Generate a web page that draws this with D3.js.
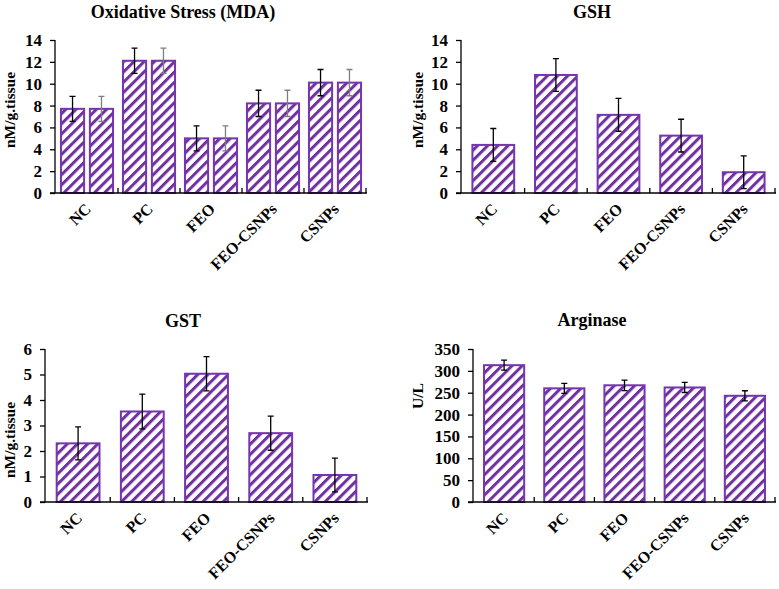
<!DOCTYPE html>
<html>
  <head>
    <meta charset="utf-8">
    <title>Oxidative stress markers</title>
    <script src="https://cdn.jsdelivr.net/npm/d3@7"></script>
    <style>
      body { margin: 0; background: #fff; }
      svg { display: block; }
      text { font-family: "Liberation Serif", "Times New Roman", serif; font-weight: bold; fill: #000; }
      .title { font-size: 18px; }
      .cat-label { font-size: 16px; }
      .y-label { font-size: 15.5px; }
      .axis-line { stroke: #000; stroke-width: 1.3; fill: none; }
      .bar { fill: url(#hatch); stroke: #7535b0; stroke-width: 2; }
      .err { stroke: #000; stroke-width: 1.3; fill: none; }
      .err.grey { stroke: #7f7f7f; }
    </style>
  </head>

  <body>
    <svg id="chart" width="779" height="589">
      <defs>
        <pattern id="hatch" patternUnits="userSpaceOnUse" width="7.2" height="7.2" patternTransform="rotate(45)">
          <rect width="7.2" height="7.2" fill="#fff"></rect>
          <line x1="1.5" y1="0" x2="1.5" y2="7.2" stroke="#7030a0" stroke-width="3"></line>
        </pattern>
      </defs>
    </svg>

    <script>
      // data
      categories = ["NC", "PC", "FEO", "FEO-CSNPs", "CSNPs"];

      mdaValues = [7.7, 12.1, 5.0, 8.2, 10.1];
      mdaErrors = [1.15, 1.15, 1.15, 1.2, 1.2];
      mdaValues2 = [7.7, 12.1, 5.0, 8.2, 10.1];
      mdaErrors2 = [1.15, 1.15, 1.15, 1.2, 1.2];

      gshValues = [4.4, 10.8, 7.15, 5.25, 1.9];
      gshErrors = [1.5, 1.5, 1.5, 1.5, 1.5];

      gstValues = [2.3, 3.55, 5.03, 2.7, 1.06];
      gstErrors = [0.65, 0.68, 0.67, 0.67, 0.66];

      arginaseValues = [313, 260, 267, 262, 243];
      arginaseErrors = [11.5, 11.5, 12, 11.5, 11.5];

      mdaTicks = [0, 2, 4, 6, 8, 10, 12, 14];
      gshTicks = [0, 2, 4, 6, 8, 10, 12, 14];
      gstTicks = [0, 1, 2, 3, 4, 5, 6];
      arginaseTicks = [0, 50, 100, 150, 200, 250, 300, 350];

      svg = d3.select("#chart");

      // one panel: left/right/top/bottom = where the axes sit on the page
      function drawPanel(p) {
        var g = svg.append("g");

        var x = d3.scaleBand()
          .domain(categories)
          .range([p.left + 1, p.right]);
        var y = d3.scaleLinear()
          .domain([0, p.max])
          .range([p.bottom, p.top]);

        // bars: one or two series per category
        var n = p.series.length;
        var groupWidth = n == 1 ? x.bandwidth() * 0.667 : x.bandwidth() * 0.84;
        var sub = d3.scaleBand()
          .domain(d3.range(n))
          .range([0, groupWidth])
          .paddingInner(n == 1 ? 0 : 0.2);

        p.series.forEach(function(s, si) {
          var rows = categories.map(function(c, i) {
            return { cat: c, v: s.values[i], e: s.errors[i] };
          });
          var bx = function(d) {
            return x(d.cat) + (x.bandwidth() - groupWidth) / 2 + sub(si);
          };
          g.selectAll(".bar-s" + si)
            .data(rows)
          .enter().append("rect")
            .attr("class", "bar bar-s" + si)
            .attr("x", bx)
            .attr("width", sub.bandwidth())
            .attr("y", function(d) { return y(d.v); })
            .attr("height", function(d) { return p.bottom - y(d.v); });

          var cx = function(d) { return bx(d) + sub.bandwidth() / 2; };
          g.selectAll(".err-s" + si)
            .data(rows)
          .enter().append("path")
            .attr("class", "err err-s" + si + (s.grey ? " grey" : ""))
            .attr("d", function(d) {
              var c = cx(d), t = y(d.v + d.e), b = y(d.v - d.e);
              return "M" + (c - 3) + "," + t + "H" + (c + 3) +
                "M" + c + "," + t + "V" + b +
                "M" + (c - 3) + "," + b + "H" + (c + 3);
            });
        });

        // y axis
        var yAxis = d3.axisLeft(y)
          .tickValues(p.ticks)
          .tickFormat(d3.format("d"))
          .tickSize(5)
          .tickPadding(8)
          .tickSizeOuter(0);
        var ya = g.append("g")
          .attr("transform", "translate(" + p.left + ",0)")
          .call(yAxis);
        ya.attr("font-family", null).attr("font-size", null);
        ya.select(".domain").remove();
        ya.selectAll("line").attr("stroke", "#000").attr("stroke-width", 1.3);
        ya.selectAll("text")
          .attr("fill", "#000")
          .style("font-family", "'Liberation Serif', 'Times New Roman', serif")
          .style("font-weight", "bold")
          .style("font-size", "17px");
        g.append("line")
          .attr("class", "axis-line")
          .attr("x1", p.left).attr("x2", p.left)
          .attr("y1", p.top).attr("y2", p.bottom);

        // x axis with inside ticks at category boundaries
        g.append("line")
          .attr("class", "axis-line")
          .attr("x1", p.left - 5).attr("x2", p.right + 1)
          .attr("y1", p.bottom).attr("y2", p.bottom);
        g.selectAll(".xtick")
          .data(categories.slice(1).concat([null]))
          .enter().append("line")
          .attr("class", "axis-line xtick")
          .attr("x1", function(d) { return d ? x(d) : p.right; })
          .attr("x2", function(d) { return d ? x(d) : p.right; })
          .attr("y1", p.bottom).attr("y2", p.bottom - 5);

        g.selectAll(".cat-label")
          .data(categories)
          .enter().append("text")
          .attr("class", "cat-label")
          .attr("text-anchor", "end")
          .attr("transform", function(d) {
            return "translate(" + (x(d) + x.bandwidth() / 2 + 5) + "," + (p.bottom + 17) + ") rotate(-45)";
          })
          .text(function(d) { return d; });

        // title and y label
        g.append("text")
          .attr("class", "title")
          .attr("text-anchor", "middle")
          .attr("x", p.titleX)
          .attr("y", p.titleY)
          .text(p.title);
        g.append("text")
          .attr("class", "y-label")
          .attr("text-anchor", "middle")
          .attr("transform", "translate(" + p.labelX + "," + p.labelY + ") rotate(-90)")
          .text(p.yLabel);
      }

      drawPanel({
        title: "Oxidative Stress (MDA)", titleX: 183, titleY: 18,
        yLabel: "nM/g.tissue", labelX: 15, labelY: 110,
        left: 55, right: 366, top: 40, bottom: 193, max: 14, ticks: mdaTicks,
        series: [
          { values: mdaValues, errors: mdaErrors },
          { values: mdaValues2, errors: mdaErrors2, grey: true }
        ]
      });

      drawPanel({
        title: "GSH", titleX: 592, titleY: 18,
        yLabel: "nM/g.tissue", labelX: 423, labelY: 110,
        left: 461, right: 775, top: 40, bottom: 193, max: 14, ticks: gshTicks,
        series: [{ values: gshValues, errors: gshErrors }]
      });

      drawPanel({
        title: "GST", titleX: 183, titleY: 327,
        yLabel: "nM/g.tissue", labelX: 15, labelY: 440,
        left: 45, right: 367, top: 349, bottom: 502, max: 6, ticks: gstTicks,
        series: [{ values: gstValues, errors: gstErrors }]
      });

      drawPanel({
        title: "Arginase", titleX: 592, titleY: 326,
        yLabel: "U/L", labelX: 423, labelY: 396,
        left: 473, right: 775, top: 349, bottom: 502, max: 350, ticks: arginaseTicks,
        series: [{ values: arginaseValues, errors: arginaseErrors }]
      });
    </script>
  </body>
</html>
